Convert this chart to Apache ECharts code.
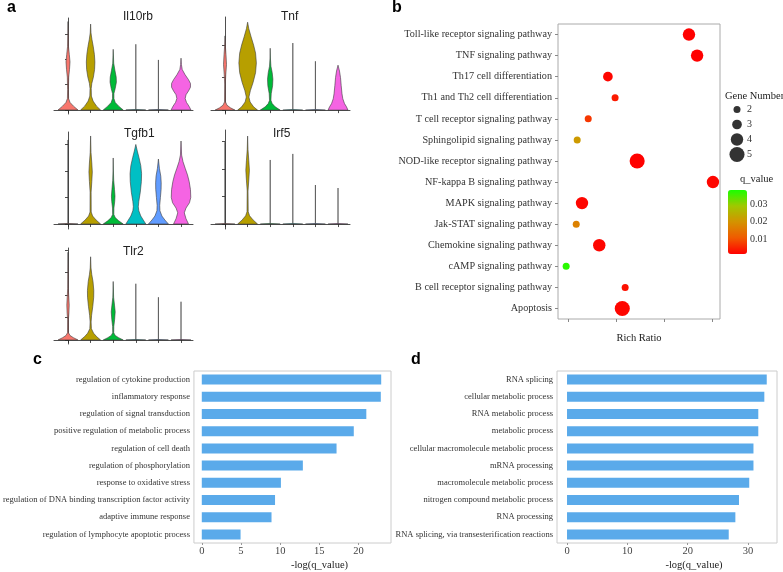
<!DOCTYPE html>
<html><head><meta charset="utf-8">
<script src="https://cdn.jsdelivr.net/npm/echarts@6/dist/echarts.min.js"></script>
<style>html,body{margin:0;padding:0;background:#fff}#c{width:783px;height:572px}</style>
</head><body><div id="c"></div>
<script>
// ---------- Panel a: violin plots ----------
const clusterColors = ['#F8766D','#B79F00','#00BA38','#00BFC4','#619CFF','#F564E3'];
const clusterIndex = [0,1,2,3,4,5];
const geneNames = ['Il10rb','Tnf','Tgfb1','Irf5','Tlr2'];
// each violin: [expression, relative half-width] from 0 up to the max expression
const il10rbViolins = [
  [[0,1],[0.15,0.55],[0.3,0.2],[0.45,0.06],[0.8,0.04],[1.3,0.07],[1.6,0.15],[1.9,0.2],[2.2,0.13],[2.5,0.05],[3.0,0.02],[3.5,0]],
  [[0,1],[0.15,0.6],[0.35,0.25],[0.55,0.08],[0.85,0.06],[1.05,0.12],[1.3,0.28],[1.6,0.4],[1.9,0.43],[2.2,0.38],[2.5,0.27],[2.8,0.13],[3.05,0.04],[3.4,0]],
  [[0,1],[0.15,0.55],[0.3,0.2],[0.45,0.07],[0.65,0.07],[0.85,0.2],[1.1,0.32],[1.3,0.3],[1.55,0.18],[1.85,0.05],[2.4,0]],
  [[0,1],[0.02,0],[2.6,0]],
  [[0,1],[0.02,0],[1.98,0]],
  [[0,1],[0.15,0.8],[0.3,0.55],[0.45,0.42],[0.6,0.5],[0.75,0.75],[0.9,0.95],[1.05,0.95],[1.2,0.75],[1.4,0.4],[1.6,0.12],[1.8,0.04],[2.05,0]]
];
const tnfViolins = [
  [[0,1],[0.07,0.55],[0.15,0.2],[0.25,0.05],[0.8,0.03],[1.1,0.08],[1.4,0.15],[1.7,0.1],[2.0,0.03],[2.28,0]],
  [[0,1],[0.1,0.6],[0.25,0.25],[0.4,0.13],[0.6,0.28],[0.85,0.55],[1.15,0.8],[1.45,0.88],[1.75,0.8],[2.0,0.6],[2.25,0.35],[2.5,0.12],[2.7,0]],
  [[0,1],[0.1,0.5],[0.2,0.2],[0.3,0.07],[0.5,0.1],[0.75,0.24],[0.95,0.27],[1.15,0.2],[1.35,0.07],[1.6,0.02],[1.9,0]],
  [[0,1],[0.02,0],[2.06,0]],
  [[0,1],[0.02,0],[1.5,0]],
  [[0,1],[0.1,0.85],[0.2,0.65],[0.35,0.48],[0.5,0.4],[0.75,0.32],[1.0,0.25],[1.2,0.15],[1.38,0]]
];
const tgfb1Violins = [
  [[0,1],[0.02,0],[3.17,0]],
  [[0,1],[0.15,0.55],[0.3,0.2],[0.45,0.06],[1.2,0.05],[1.6,0.12],[1.96,0.17],[2.3,0.12],[2.7,0.04],[3.32,0]],
  [[0,1],[0.12,0.55],[0.24,0.2],[0.36,0.06],[0.6,0.07],[0.85,0.15],[1.05,0.18],[1.3,0.13],[1.65,0.05],[2.0,0.02],[2.49,0]],
  [[0,1],[0.15,0.75],[0.3,0.5],[0.5,0.3],[0.65,0.25],[0.85,0.3],[1.2,0.45],[1.6,0.56],[1.9,0.58],[2.2,0.5],[2.5,0.32],[2.75,0.15],[3.0,0]],
  [[0,1],[0.15,0.65],[0.3,0.35],[0.5,0.15],[0.7,0.13],[1.0,0.2],[1.3,0.27],[1.55,0.28],[1.8,0.24],[2.1,0.1],[2.45,0]],
  [[0,0.75],[0.2,0.5],[0.42,0.33],[0.6,0.5],[0.8,0.85],[1.0,0.98],[1.3,0.95],[1.6,0.82],[1.85,0.65],[2.1,0.42],[2.35,0.2],[2.6,0.06],[3.13,0]]
];
const irf5Violins = [
  [[0,1],[0.02,0],[2.98,0]],
  [[0,1],[0.15,0.55],[0.3,0.2],[0.45,0.06],[1.2,0.04],[1.6,0.12],[1.96,0.18],[2.3,0.12],[2.7,0.04],[3.2,0]],
  [[0,1],[0.02,0],[2.33,0]],
  [[0,1],[0.02,0],[2.55,0]],
  [[0,1],[0.02,0],[1.42,0]],
  [[0,1],[0.02,0],[1.31,0]]
];
const tlr2Violins = [
  [[0,1],[0.1,0.55],[0.2,0.2],[0.32,0.05],[0.9,0.04],[1.2,0.09],[1.55,0.12],[1.9,0.08],[2.3,0.03],[3.9,0]],
  [[0,1],[0.15,0.6],[0.3,0.3],[0.5,0.08],[0.8,0.05],[1.1,0.1],[1.5,0.22],[1.9,0.31],[2.2,0.32],[2.6,0.24],[2.9,0.12],[3.2,0.04],[3.7,0]],
  [[0,1],[0.1,0.55],[0.2,0.2],[0.32,0.05],[0.6,0.06],[0.9,0.14],[1.25,0.2],[1.55,0.13],[1.9,0.04],[2.6,0]],
  [[0,1],[0.02,0],[2.5,0]],
  [[0,1],[0.02,0],[1.9,0]],
  [[0,1],[0.02,0],[1.7,0]]
];
const geneViolins = [il10rbViolins, tnfViolins, tgfb1Violins, irf5Violins, tlr2Violins];
const geneYTicks = [[0,1,2,3],[0,1,2],[0,1,2,3],[0,1,2,3],[0,1,2,3,4]];

// ---------- Panel b: KEGG dot plot ----------
const pathways = ['Toll-like receptor signaling pathway','TNF signaling pathway','Th17 cell differentiation','Th1 and Th2 cell differentiation','T cell receptor signaling pathway','Sphingolipid signaling pathway','NOD-like receptor signaling pathway','NF-kappa B signaling pathway','MAPK signaling pathway','Jak-STAT signaling pathway','Chemokine signaling pathway','cAMP signaling pathway','B cell receptor signaling pathway','Apoptosis'];
const richRatio = [0.352,0.369,0.183,0.198,0.142,0.119,0.244,0.402,0.129,0.117,0.165,0.096,0.219,0.213];
const geneNumber = [4,4,3,2,2,2,5,4,4,2,4,2,2,5];
const qValue = [0.0015,0.0015,0.002,0.004,0.007,0.021,0.0015,0.002,0.002,0.017,0.002,0.037,0.003,0.002];
const richTicks = [0.1,0.2,0.3,0.4];
const geneNumberLegend = ['2','3','4','5'];
const qTicks = [0.01,0.02,0.03];
const qMin = 0.0014, qMax = 0.038;

// ---------- Panel c / d: GO bars ----------
const goTermsC = ['regulation of cytokine production','inflammatory response','regulation of signal transduction','positive regulation of metabolic process','regulation of cell death','regulation of phosphorylation','response to oxidative stress','regulation of DNA binding transcription factor activity','adaptive immune response','regulation of lymphocyte apoptotic process'];
const goValuesC = [22.9,22.85,21.0,19.4,17.2,12.9,10.1,9.35,8.9,4.95];
const ticksC = [0,5,10,15,20];
const goTermsD = ['RNA splicing','cellular metabolic process','RNA metabolic process','metabolic process','cellular macromolecule metabolic process','mRNA processing','macromolecule metabolic process','nitrogen compound metabolic process','RNA processing','RNA splicing, via transesterification reactions'];
const goValuesD = [33.1,32.7,31.7,31.7,30.9,30.9,30.2,28.5,27.9,26.8];
const ticksD = [0,10,20,30];

// ---------- layout / style ----------
const SERIF = 'Liberation Serif';
const SANS = 'Liberation Sans';
const HALF = 0.44;
const aGrids = [
  {left:54, top:18, width:139, height:96},
  {left:211, top:17, width:139, height:97},
  {left:54, top:132, width:139, height:97},
  {left:211, top:130, width:139, height:99},
  {left:54, top:248, width:139, height:96}
];
const aYRange = [[-0.16,3.64],[-0.12,2.86],[-0.19,3.47],[-0.18,3.42],[-0.18,4.09]];
const dotSize = n => 1.6 + 2.7 * n;

const grids = [], xAxes = [], yAxes = [], series = [];
aGrids.forEach((g, gi) => {
  grids.push(Object.assign({containLabel:false}, g));
  xAxes.push({gridIndex:gi, type:'value', min:-0.62, max:5.53,
    axisLine:{show:true, lineStyle:{color:'#222', width:0.8}},
    axisTick:{show:true, length:3, customValues:clusterIndex, lineStyle:{color:'#222', width:0.8}},
    axisLabel:{show:false}, splitLine:{show:false}});
  yAxes.push({gridIndex:gi, type:'value', min:aYRange[gi][0], max:aYRange[gi][1],
    axisLine:{show:true, lineStyle:{color:'#222', width:0.8}},
    axisTick:{show:true, length:3, customValues:geneYTicks[gi], lineStyle:{color:'#222', width:0.8}},
    axisLabel:{show:false}, splitLine:{show:false}});
  const profiles = geneViolins[gi];
  series.push({
    type:'custom', xAxisIndex:gi, yAxisIndex:gi, silent:true, clip:false,
    data: clusterIndex.map(i => [i, profiles[i][profiles[i].length-1][0]]),
    renderItem: function(params, api){
      const i = api.value(0);
      const prof = profiles[params.dataIndex];
      const L = [], R = [];
      prof.forEach(p => { L.push(api.coord([i - p[1]*HALF, p[0]])); R.push(api.coord([i + p[1]*HALF, p[0]])); });
      return {type:'polygon', shape:{points:L.concat(R.reverse())},
        style:{fill:clusterColors[i], stroke:'#3a3a3a', lineWidth:0.6}};
    }
  });
});

// panel b grid (5)
grids.push({left:558, top:24, width:162, height:295, show:true, borderColor:'#aaa', borderWidth:1, backgroundColor:'transparent'});
xAxes.push({gridIndex:5, type:'value', min:0.079, max:0.4167,
  axisLine:{show:false}, splitLine:{show:false},
  axisTick:{show:true, length:3, customValues:richTicks, lineStyle:{color:'#888'}},
  axisLabel:{show:false},
  name:'Rich Ratio', nameLocation:'middle', nameGap:14,
  nameTextStyle:{fontFamily:SERIF, fontSize:10.5, color:'#222'}});
yAxes.push({gridIndex:5, type:'category', data:pathways, inverse:true,
  axisLine:{show:false}, splitLine:{show:false},
  axisTick:{show:true, length:3, alignWithLabel:true, lineStyle:{color:'#888'}},
  axisLabel:{fontFamily:SERIF, fontSize:10.2, color:'#333', margin:6}});
const dotSeriesIndex = series.length;
series.push({type:'scatter', xAxisIndex:5, yAxisIndex:5, silent:true,
  data: pathways.map((p,i) => [richRatio[i], p, geneNumber[i], qValue[i]]),
  symbolSize: v => dotSize(v[2]), itemStyle:{opacity:1}});

// size legend grid (6)
grids.push({left:730, top:102, width:14, height:60});
xAxes.push({gridIndex:6, type:'value', min:-1, max:1, show:false});
yAxes.push({gridIndex:6, type:'category', data:geneNumberLegend, inverse:true, position:'right',
  axisLine:{show:false}, axisTick:{show:false}, splitLine:{show:false},
  axisLabel:{fontFamily:SERIF, fontSize:10, color:'#333', margin:3}});
series.push({type:'scatter', xAxisIndex:6, yAxisIndex:6, silent:true,
  data: geneNumberLegend.map(s => [0, s]), symbolSize: v => dotSize(+v[1]),
  itemStyle:{color:'#000'}});

// colorbar label grid (7)
grids.push({left:728, top:190, width:19, height:64});
xAxes.push({gridIndex:7, type:'value', min:0, max:1, show:false});
yAxes.push({gridIndex:7, type:'value', min:qMin, max:qMax, position:'right', z:10,
  axisLine:{show:false}, splitLine:{show:false},
  axisTick:{show:true, inside:true, length:4, customValues:qTicks, lineStyle:{color:'#fff'}},
  axisLabel:{customValues:qTicks, fontFamily:SERIF, fontSize:10, color:'#333', margin:3,
    formatter: v => v.toFixed(2)}});

// panel c (8) and d (9)
function goPanel(idx, grid, terms, vals, min, max, ticks){
  grids.push(Object.assign({show:true, borderColor:'#ccc', borderWidth:1, backgroundColor:'transparent'}, grid));
  xAxes.push({gridIndex:idx, type:'value', min:min, max:max,
    axisLine:{show:false}, splitLine:{show:false},
    axisTick:{show:true, length:2, customValues:ticks, lineStyle:{color:'#999'}},
    axisLabel:{customValues:ticks, fontFamily:SERIF, fontSize:10.5, color:'#444', margin:3},
    name:'-log(q_value)', nameLocation:'middle', nameGap:17,
    nameTextStyle:{fontFamily:SERIF, fontSize:10.5, color:'#222', padding:[0,0,0,54]}});
  yAxes.push({gridIndex:idx, type:'category', data:terms, inverse:true,
    axisLine:{show:false}, axisTick:{show:false}, splitLine:{show:false},
    axisLabel:{fontFamily:SERIF, fontSize:8.5, color:'#333', margin:4}});
  series.push({type:'bar', xAxisIndex:idx, yAxisIndex:idx, data:vals, barWidth:10, silent:true,
    itemStyle:{color:'#5aaaea'}});
}
goPanel(8, {left:191, top:371, width:200, height:172}, goTermsC, goValuesC, -1.0, 24.15, ticksC);
goPanel(9, {left:557, top:371, width:220, height:172}, goTermsD, goValuesD, -1.66, 34.8, ticksD);

const letterStyle = {fontFamily:SANS, fontSize:16, fontWeight:'bold', color:'#000'};
const geneStyle = {fontFamily:SANS, fontSize:12, fontWeight:'normal', color:'#222'};
const titles = [
  {text:'a', left:7, top:0, textStyle:letterStyle},
  {text:'b', left:392, top:0, textStyle:letterStyle},
  {text:'c', left:33, top:352, textStyle:letterStyle},
  {text:'d', left:411, top:352, textStyle:letterStyle},
  {text:geneNames[0], left:123, top:11, textStyle:geneStyle},
  {text:geneNames[1], left:281, top:11, textStyle:geneStyle},
  {text:geneNames[2], left:124, top:128, textStyle:geneStyle},
  {text:geneNames[3], left:273, top:128, textStyle:geneStyle},
  {text:geneNames[4], left:123, top:246, textStyle:geneStyle},
  {text:'Gene Number', left:725, top:91, textStyle:{fontFamily:SERIF, fontSize:10.5, fontWeight:'normal', color:'#222'}},
  {text:'q_value', left:740, top:174, textStyle:{fontFamily:SERIF, fontSize:10.5, fontWeight:'normal', color:'#222'}}
].map(t => Object.assign({padding:0}, t));

const chart = echarts.init(document.getElementById('c'), null, {renderer:'canvas'});
chart.setOption({
  animation:false,
  backgroundColor:'#fff',
  title: titles,
  grid: grids, xAxis: xAxes, yAxis: yAxes,
  visualMap: {type:'continuous', seriesIndex:dotSeriesIndex, dimension:3, min:qMin, max:qMax,
    calculable:false, hoverLink:false, left:728, top:190, itemWidth:19, itemHeight:64, padding:0,
    inRange:{color:['#ff0000','#f05a00','#d49200','#a0c800','#1aff00']}},
  series: series
});
</script></body></html>
